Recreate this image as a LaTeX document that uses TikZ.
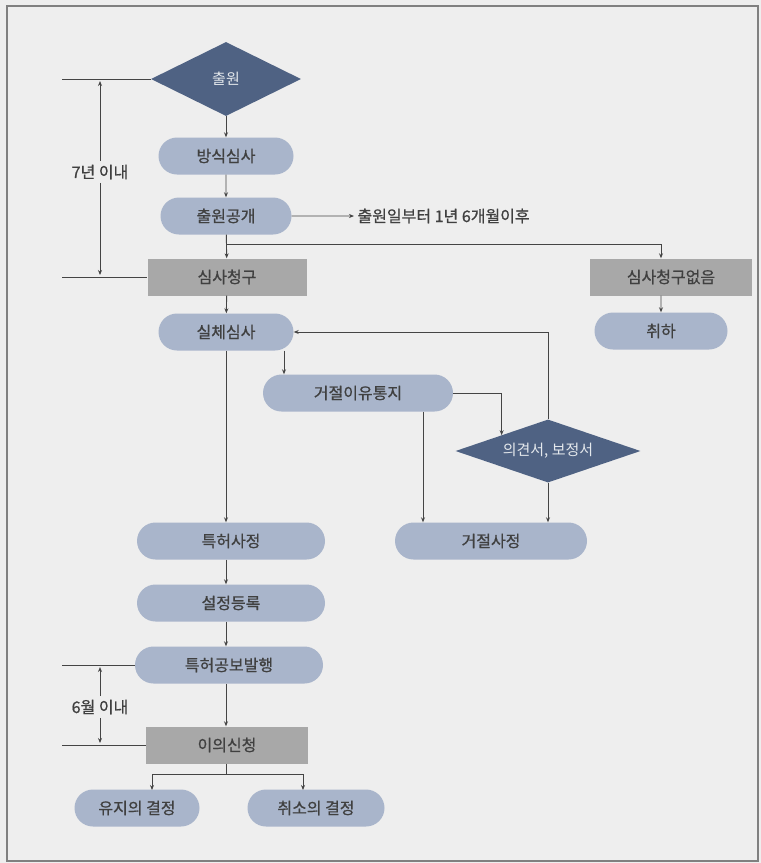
\documentclass[tikz,border=0pt]{standalone}
\usepackage{fontspec}
\setmainfont{Noto Sans CJK KR}[BoldFont={Noto Sans CJK KR},BoldFeatures={FakeBold=0.8}]
\usetikzlibrary{shapes.geometric,shapes.misc,arrows.meta}
\definecolor{bgcol}{HTML}{EEEEEE}
\definecolor{pillcol}{HTML}{A9B5CB}
\definecolor{rectcol}{HTML}{A8A8A8}
\definecolor{diacol}{HTML}{4F6283}
\definecolor{linecol}{HTML}{444444}
\tikzset{
  pill/.style={rounded rectangle, fill=pillcol, minimum height=37pt, inner sep=0pt, font=\fontsize{16}{18}\selectfont\bfseries},
  grayrect/.style={rectangle, fill=rectcol, minimum height=37pt, inner sep=0pt, font=\fontsize{16}{18}\selectfont\bfseries},
  darkdia/.style={diamond, fill=diacol, text=white!85!diacol, inner sep=0pt, aspect=2.3, font=\fontsize{15}{17}\selectfont},
  conn/.style={draw=linecol, line width=0.9pt, -{Stealth[length=5pt,width=4pt]}},
  plain/.style={draw=linecol, line width=0.9pt},
}
\begin{document}
\begin{tikzpicture}[x=1pt,y=-1pt,font=\fontsize{16}{18}\selectfont\bfseries,text=black!75]
                \useasboundingbox[fill=bgcol] (0,0) rectangle (761,863);
                \draw[gray, line width=1.2pt] (7,6) rectangle (758,861);
                % main column
                \node[darkdia, minimum width=150pt, minimum height=74pt] (filing) at (226,79) {출원};
                \node[pill, minimum width=135pt] (formal) at (226,156) {방식심사};
                \node[pill, minimum width=131pt] (publish) at (226,216) {출원공개};
                \node[grayrect, minimum width=159pt] (request) at (227,277) {심사청구};
                \node[pill, minimum width=135pt] (exam) at (226,332) {실체심사};
                \node[pill, minimum width=188pt] (grant) at (231,541) {특허사정};
                \node[pill, minimum width=188pt] (register) at (231,603) {설정등록};
                \node[pill, minimum width=188pt] (gazette) at (229,665) {특허공보발행};
                \node[grayrect, minimum width=162pt] (oppose) at (227,745) {이의신청};
                \node[pill, minimum width=125pt] (keep) at (137,808) {유지의 결정};
                \node[pill, minimum width=137pt] (revoke) at (316,808) {취소의 결정};
                % right branches
                \node[anchor=west] (pubnote) at (354,216) {출원일부터 1년 6개월이후};
                \node[grayrect, minimum width=162pt] (norequest) at (671,277) {심사청구없음};
                \node[pill, minimum width=133pt] (withdraw) at (661,331) {취하};
                \node[pill, minimum width=190pt] (reason) at (358,393) {거절이유통지};
                \node[darkdia, minimum width=185pt, minimum height=63pt] (opinion) at (548,451) {의견서, 보정서};
                \node[pill, minimum width=192pt] (reject) at (491,541) {거절사정};
                % connectors
                \draw[conn] (filing) -- (formal);
                \draw[conn] (formal) -- (publish);
                \draw[conn] (publish) -- (request);
                \draw[conn] (publish) -- (pubnote);
                \draw[conn] (226,244) -| (norequest.north -| withdraw);
                \draw[conn] (norequest.south -| withdraw) -- (withdraw);
                \draw[conn] (request) -- (exam);
                \draw[conn] (exam.south -| 284,0) -- (reason.north -| 284,0);
                \draw[conn] (opinion.north) |- (exam.east);
                \draw[conn] (reason.east) -| (opinion.north west);
                \draw[conn] (reason.south -| 423,0) -- (reject.north -| 423,0);
                \draw[conn] (opinion.south) -- (reject.north -| opinion);
                \draw[conn] (exam.south -| 226,0) -- (grant.north -| 226,0);
                \draw[conn] (grant.south -| 226,0) -- (register.north -| 226,0);
                \draw[conn] (register.south -| 226,0) -- (gazette.north -| 226,0);
                \draw[conn] (gazette.south -| 226,0) -- (oppose.north -| 226,0);
                \draw[plain] (oppose.south -| 226,0) -- (226,774);
                \draw[conn] (226,774) -| (152,790);
                \draw[conn] (226,774) -| (303,790);
                % time limits
                \foreach \nd in {filing, request, gazette, oppose}{
                    \draw[plain] (62,0 |- \nd.west) -- (\nd.west);
                }
                \node (sevenyr) at (100,172) {7년 이내};
                \node (sixmon) at (100,707) {6월 이내};
                \draw[conn] (sevenyr.north) -- (100,81);
                \draw[conn] (sevenyr.south) -- (100,275);
                \draw[conn] (sixmon.north) -- (100,667);
                \draw[conn] (sixmon.south) -- (100,743);
            \end{tikzpicture}
\end{document}
